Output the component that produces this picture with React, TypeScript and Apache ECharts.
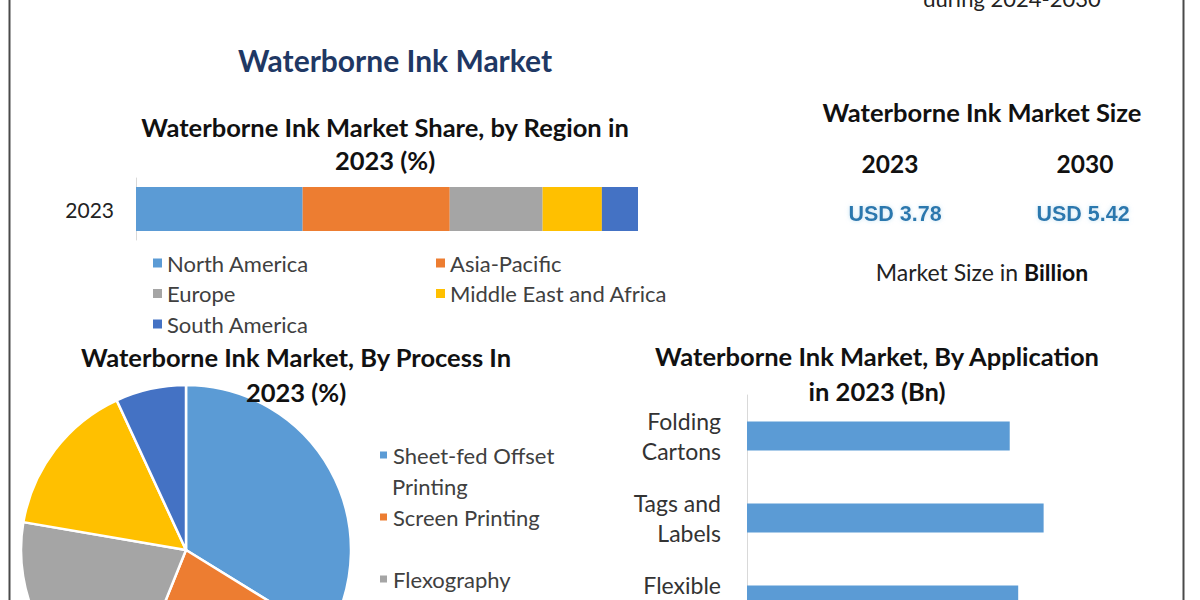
import React, { useEffect, useRef } from "react";
import * as echarts from "echarts";

// ---------- data ----------
const regionYear = ["2023"];
const regionNames = ["North America", "Asia-Pacific", "Europe", "Middle East and Africa", "South America"];
const regionShares = [33.2, 29.3, 18.5, 11.8, 7.2];
const regionColors = ["#5B9BD5", "#ED7D31", "#A5A5A5", "#FFC000", "#4472C4"];

const processNames = ["Sheet-fed Offset Printing", "Screen Printing", "Flexography", "Gravure Printing", "Digital Printing"];
const processShares = [33.8, 22.3, 21.6, 15.4, 6.9];
const processColors = ["#5B9BD5", "#ED7D31", "#A5A5A5", "#FFC000", "#4472C4"];

const applicationNames = ["Folding\nCartons", "Tags and\nLabels", "Flexible\nPackaging"];
const applicationValues = [0.62, 0.7, 0.64];

const sizeYears = ["2023", "2030"];
const sizeValues = [3.78, 5.42];

const FONT = "Lato";

export default function App() {
  const ref = useRef<HTMLDivElement>(null);

  useEffect(() => {
    document.body.style.margin = "0";
    document.body.style.overflow = "hidden";
    const chart = echarts.init(ref.current!, null, { renderer: "svg" });

    const regionSeries = regionNames.map((name, i) => ({
      name,
      type: "bar",
      stack: "region",
      xAxisIndex: 0,
      yAxisIndex: 0,
      barWidth: 44,
      itemStyle: { color: regionColors[i] },
      data: [regionShares[i]],
    }));

    const legendBase = {
      padding: 0,
      itemWidth: 9,
      itemHeight: 9,
      icon: "rect",
      textStyle: { fontFamily: FONT, fontSize: 22, color: "#404040", lineHeight: 22 },
    };

    const titleText = { fontFamily: FONT, fontSize: 25.5, fontWeight: "bold", color: "#111" };

    const option: any = {
      animation: false,
      backgroundColor: "#ffffff",
      textStyle: { fontFamily: FONT },
      title: [
        {
          text: "Waterborne Ink Market",
          left: 395,
          top: 43,
          padding: 0,
          textAlign: "center",
          textStyle: { fontFamily: FONT, fontSize: 30, fontWeight: "bold", color: "#1F3864", lineHeight: 34 },
        },
        {
          text: "Waterborne Ink Market Share, by Region in\n2023 (%)",
          left: 385,
          top: 110.5,
          padding: 0,
          textAlign: "center",
          textStyle: { ...titleText, lineHeight: 33 },
        },
        {
          text: "Waterborne Ink Market, By Process In\n2023 (%)",
          left: 296,
          top: 339.5,
          padding: 0,
          textAlign: "center",
          textStyle: { ...titleText, lineHeight: 35 },
        },
        {
          text: "Waterborne Ink Market, By Application\nin 2023 (Bn)",
          left: 877,
          top: 338.5,
          padding: 0,
          textAlign: "center",
          textStyle: { ...titleText, lineHeight: 35 },
        },
      ],
      legend: [
        {
          ...legendBase,
          data: ["North America", "Europe", "South America"],
          orient: "vertical",
          left: 153,
          top: 252,
          itemGap: 8.5,
        },
        {
          ...legendBase,
          data: ["Asia-Pacific", "Middle East and Africa"],
          orient: "vertical",
          left: 436,
          top: 252,
          itemGap: 8.5,
        },
        {
          ...legendBase,
          data: [processNames[0]],
          left: 378,
          top: 444,
          formatter: () => "Sheet-fed Offset",
        },
        {
          ...legendBase,
          data: [processNames[1]],
          left: 378,
          top: 506,
        },
        {
          ...legendBase,
          data: [processNames[2]],
          left: 378,
          top: 568,
        },
      ],
      grid: [
        { left: 136, top: 178, width: 502, height: 62, containLabel: false },
        { left: 747, top: 395, width: 339, height: 246, containLabel: false },
      ],
      xAxis: [
        { gridIndex: 0, type: "value", min: 0, max: 100, show: false },
        { gridIndex: 1, type: "value", min: 0, max: 0.8, show: false },
      ],
      yAxis: [
        {
          gridIndex: 0,
          type: "category",
          data: regionYear,
          axisLine: { show: true, lineStyle: { color: "#D9D9D9", width: 1 } },
          axisTick: { show: false },
          axisLabel: { fontFamily: FONT, fontSize: 21, color: "#222", margin: 22 },
        },
        {
          gridIndex: 1,
          type: "category",
          inverse: true,
          data: applicationNames,
          axisLine: { show: true, lineStyle: { color: "#D9D9D9", width: 1 } },
          axisTick: { show: false },
          axisLabel: { fontFamily: FONT, fontSize: 23, color: "#333", margin: 26, lineHeight: 30, align: "right" },
        },
      ],
      series: [
        ...regionSeries,
        {
          name: "Application",
          type: "bar",
          xAxisIndex: 1,
          yAxisIndex: 1,
          barWidth: 29,
          itemStyle: { color: "#5B9BD5" },
          data: applicationValues,
        },
        {
          name: "Process",
          type: "pie",
          center: [186, 550],
          radius: 165,
          startAngle: 90,
          clockwise: true,
          label: { show: false },
          labelLine: { show: false },
          itemStyle: { borderColor: "#ffffff", borderWidth: 2.5 },
          data: processNames.map((name, i) => ({
            name,
            value: processShares[i],
            itemStyle: { color: processColors[i] },
          })),
        },
      ],
      graphic: [
        { type: "line", shape: { x1: 9.5, y1: 0, x2: 9.5, y2: 720 }, style: { stroke: "#4a4a4a", lineWidth: 2 } },
        { type: "line", shape: { x1: 1183.5, y1: 0, x2: 1183.5, y2: 720 }, style: { stroke: "#4a4a4a", lineWidth: 2 } },
        {
          type: "text",
          x: 1012,
          y: 9,
          style: {
            text: "during 2024-2030",
            fontFamily: FONT,
            fontSize: 22,
            fill: "#222",
            align: "center",
            verticalAlign: "bottom",
          },
        },
        {
          type: "text",
          x: 982,
          y: 112,
          style: {
            text: "Waterborne Ink Market Size",
            fontFamily: FONT,
            fontSize: 25.5,
            fontWeight: "bold",
            fill: "#111",
            align: "center",
            verticalAlign: "middle",
          },
        },
        ...sizeYears.map((yr, i) => ({
          type: "text",
          x: i === 0 ? 890 : 1085,
          y: 163,
          style: {
            text: yr,
            fontFamily: FONT,
            fontSize: 24.5,
            fontWeight: "bold",
            fill: "#111",
            align: "center",
            verticalAlign: "middle",
          },
        })),
        ...sizeValues.map((v, i) => ({
          type: "text",
          x: i === 0 ? 895 : 1083,
          y: 214,
          style: {
            text: "USD " + v.toFixed(2),
            fontFamily: "Liberation Sans",
            fontSize: 21.5,
            fontWeight: "bold",
            fill: "#2C78AE",
            align: "center",
            verticalAlign: "middle",
            textShadowColor: "rgba(170,215,240,0.7)",
            textShadowBlur: 4,
          },
        })),
        {
          type: "text",
          x: 982,
          y: 272,
          style: {
            text: "{n|Market Size in }{b|Billion}",
            align: "center",
            verticalAlign: "middle",
            rich: {
              n: { fontFamily: FONT, fontSize: 23, fill: "#222", color: "#222" },
              b: { fontFamily: FONT, fontSize: 23, fontWeight: "bold", fill: "#111", color: "#111" },
            },
          },
        },
        {
          type: "text",
          x: 392,
          y: 486,
          style: {
            text: "Printing",
            fontFamily: FONT,
            fontSize: 22,
            fill: "#404040",
            align: "left",
            verticalAlign: "middle",
          },
        },
      ],
    };

    chart.setOption(option);
    return () => chart.dispose();
  }, []);

  return (
    <div style={{ position: "absolute", left: 0, top: 0, width: 1200, height: 600, overflow: "hidden", background: "#fff" }}>
      <div ref={ref} style={{ position: "absolute", left: 0, top: 0, width: 1200, height: 720 }} />
    </div>
  );
}
